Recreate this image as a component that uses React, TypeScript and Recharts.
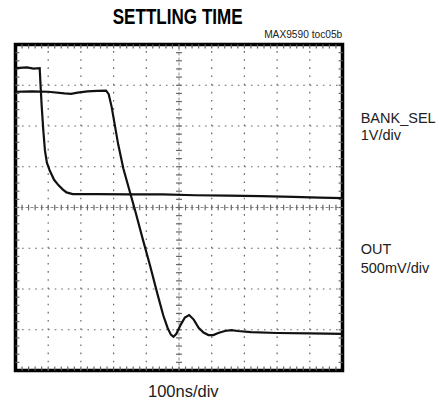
import React from "react";
import { LineChart, Line, XAxis, YAxis, ReferenceLine, ReferenceArea } from "recharts";

// BANK_SEL trace (time in divisions, level in divisions)
const bankSelTime = [0, 0.35, 0.55, 0.74, 0.76, 0.8, 0.85, 0.9, 0.96, 1.05, 1.18, 1.31, 1.45, 1.56, 1.75, 2.5, 3.5, 4.5, 5.5, 6.5, 7.5, 8.5, 9.3, 10];
const bankSelLevel = [7.42, 7.44, 7.41, 7.42, 7.1, 6.5, 5.9, 5.4, 5.1, 4.9, 4.68, 4.55, 4.44, 4.37, 4.33, 4.33, 4.32, 4.32, 4.3, 4.29, 4.28, 4.26, 4.24, 4.23];

// OUT trace
const outTime = [0, 0.5, 1.0, 1.5, 1.7, 1.9, 2.2, 2.5, 2.77, 2.85, 2.94, 3.14, 3.3, 3.52, 3.65, 3.9, 4.11, 4.35, 4.52, 4.65, 4.75, 4.83, 4.92, 5.05, 5.18, 5.31, 5.45, 5.6, 5.75, 5.9, 6.05, 6.2, 6.4, 6.6, 6.8, 7.2, 8, 9, 10];
const outLevel = [6.84, 6.85, 6.84, 6.8, 6.79, 6.82, 6.85, 6.86, 6.87, 6.78, 6.47, 5.55, 4.95, 4.32, 3.95, 3.2, 2.59, 1.85, 1.35, 1.05, 0.88, 0.83, 0.9, 1.12, 1.3, 1.36, 1.25, 1.05, 0.93, 0.87, 0.87, 0.92, 0.97, 0.99, 0.97, 0.94, 0.92, 0.91, 0.9];

const xGridLines = [1, 2, 3, 4, 6, 7, 8, 9];
const yGridLines = [1, 2, 3, 5, 6, 7];
const X_DIVS = 10;
const Y_DIVS = 8;

const bankSelData = bankSelTime.map((t, i) => ({ t, v: bankSelLevel[i] }));
const outData = outTime.map((t, i) => ({ t, v: outLevel[i] }));

const xMinor: number[] = [];
for (let i = 1; i < X_DIVS * 5; i++) xMinor.push(i / 5);
const yMinor: number[] = [];
for (let i = 1; i < Y_DIVS * 5; i++) yMinor.push(i / 5);

const FONT = "'Liberation Sans', Arial, sans-serif";
const TICK = "#666";

export default function App() {
  return (
    <div style={{ position: "absolute", left: 0, top: 0, width: 439, height: 404, background: "#fff" }}>
      <LineChart width={439} height={404} margin={{ left: 15.5, right: 96.5, top: 44.5, bottom: 33.5 }}>
        <XAxis type="number" dataKey="t" domain={[0, X_DIVS]} hide allowDataOverflow />
        <YAxis type="number" dataKey="v" domain={[0, Y_DIVS]} hide allowDataOverflow />
        {xGridLines.map((t) => (
          <ReferenceLine key={"gx" + t} x={t} stroke="#666" strokeWidth={1.2} strokeDasharray="1.6 6.55" />
        ))}
        {yGridLines.map((v) => (
          <ReferenceLine key={"gy" + v} y={v} stroke="#666" strokeWidth={1.2} strokeDasharray="1.6 4.94" />
        ))}
        <ReferenceLine x={5} stroke="#888" strokeWidth={1} strokeDasharray="3 2" />
        <ReferenceLine y={4} stroke="#888" strokeWidth={1} strokeDasharray="3 2" />
        {yMinor.map((v) => (
          <ReferenceLine key={"cy" + v} segment={[{ x: 5 - 0.09, y: v }, { x: 5 + 0.09, y: v }]} stroke={TICK} strokeWidth={1.2} />
        ))}
        {xMinor.map((t) => (
          <ReferenceLine key={"cx" + t} segment={[{ x: t, y: 4 - 0.07 }, { x: t, y: 4 + 0.07 }]} stroke={TICK} strokeWidth={1.2} />
        ))}
        {xMinor.map((t) => (
          <ReferenceLine key={"tt" + t} segment={[{ x: t, y: Y_DIVS }, { x: t, y: Y_DIVS - 0.1 }]} stroke={TICK} strokeWidth={1.2} />
        ))}
        {xMinor.map((t) => (
          <ReferenceLine key={"tb" + t} segment={[{ x: t, y: 0 }, { x: t, y: 0.1 }]} stroke={TICK} strokeWidth={1.2} />
        ))}
        {yMinor.map((v) => (
          <ReferenceLine key={"tl" + v} segment={[{ x: 0, y: v }, { x: 0.12, y: v }]} stroke={TICK} strokeWidth={1.2} />
        ))}
        {yMinor.map((v) => (
          <ReferenceLine key={"tr" + v} segment={[{ x: X_DIVS, y: v }, { x: X_DIVS - 0.12, y: v }]} stroke={TICK} strokeWidth={1.2} />
        ))}
        <Line data={bankSelData} dataKey="v" type="linear" stroke="#111" strokeWidth={2.2} dot={false} isAnimationActive={false} />
        <Line data={outData} dataKey="v" type="linear" stroke="#111" strokeWidth={2.2} dot={false} isAnimationActive={false} />
        <ReferenceArea x1={0} x2={X_DIVS} y1={0} y2={Y_DIVS} fill="none" stroke="#000" strokeWidth={3.5} />
      </LineChart>
      <svg width={439} height={404} style={{ position: "absolute", left: 0, top: 0, pointerEvents: "none" }}>
        <text x={177.7} y={24} textAnchor="middle" fontFamily={FONT} fontWeight="bold" fontSize={21.5} textLength={130} lengthAdjust="spacingAndGlyphs" fill="#000">SETTLING TIME</text>
        <text x={342.3} y={37.7} textAnchor="end" fontFamily={FONT} fontSize={10.2} fill="#222">MAX9590 toc05b</text>
        <text x={360.7} y={122.5} fontFamily={FONT} fontSize={14.5} fill="#222">BANK_SEL</text>
        <text x={360.7} y={140} fontFamily={FONT} fontSize={14.5} fill="#222">1V/div</text>
        <text x={360.7} y={254} fontFamily={FONT} fontSize={14.5} fill="#222">OUT</text>
        <text x={360.7} y={272.5} fontFamily={FONT} fontSize={14.5} fill="#222">500mV/div</text>
        <text x={183.3} y={397} textAnchor="middle" fontFamily={FONT} fontSize={16.5} fill="#222">100ns/div</text>
      </svg>
    </div>
  );
}
